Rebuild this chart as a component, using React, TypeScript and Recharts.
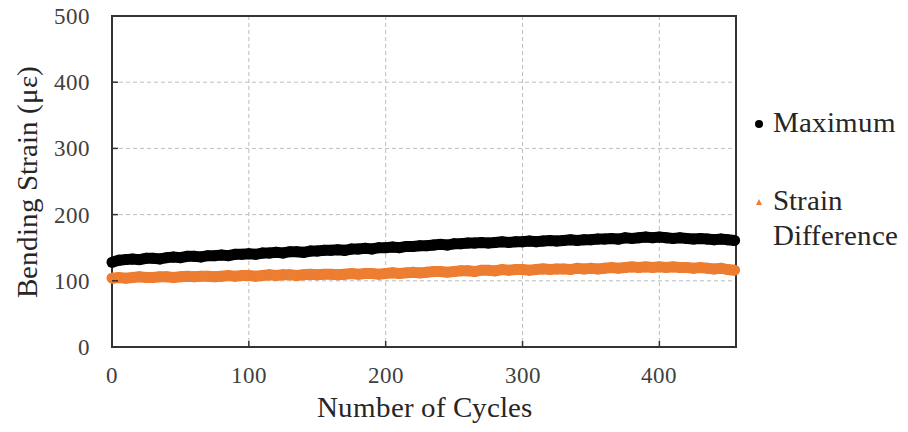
import { ScatterChart, Scatter, XAxis, YAxis, CartesianGrid, ReferenceArea } from 'recharts';

// cycle number of each sampled reading
const cycles = [
  0, 5, 10, 15, 20, 25, 30, 35, 40, 45,
  50, 55, 60, 65, 70, 75, 80, 85, 90, 95,
  100, 105, 110, 115, 120, 125, 130, 135, 140, 145,
  150, 155, 160, 165, 170, 175, 180, 185, 190, 195,
  200, 205, 210, 215, 220, 225, 230, 235, 240, 245,
  250, 255, 260, 265, 270, 275, 280, 285, 290, 295,
  300, 305, 310, 315, 320, 325, 330, 335, 340, 345,
  350, 355, 360, 365, 370, 375, 380, 385, 390, 395,
  400, 405, 410, 415, 420, 425, 430, 435, 440, 445,
  450, 455,
];

const maximum = [
  128, 131, 132, 133, 132, 134, 134, 133, 135, 136,
  135, 137, 137, 136, 138, 138, 139, 138, 140, 140,
  141, 140, 142, 142, 143, 142, 144, 144, 143, 145,
  145, 146, 146, 147, 146, 148, 148, 149, 148, 150,
  150, 151, 150, 152, 152, 153, 153, 154, 155, 154,
  156, 156, 157, 157, 158, 157, 158, 159, 158, 159,
  159, 160, 159, 160, 161, 160, 161, 162, 161, 162,
  162, 163, 163, 164, 163, 165, 164, 165, 166, 165,
  166, 165, 164, 165, 164, 163, 164, 163, 162, 163,
  162, 161,
];

const strainDifference = [
  104, 105, 104, 105, 106, 105, 105, 106, 106, 105,
  106, 107, 106, 107, 107, 106, 107, 108, 107, 108,
  108, 107, 108, 109, 108, 109, 109, 108, 109, 110,
  109, 110, 110, 109, 110, 111, 110, 111, 111, 110,
  111, 112, 111, 112, 113, 112, 113, 114, 114, 113,
  114, 115, 115, 114, 116, 116, 115, 117, 116, 117,
  117, 116, 117, 118, 117, 118, 118, 117, 119, 118,
  119, 118, 119, 120, 119, 120, 121, 120, 121, 120,
  121, 120, 121, 120, 120, 119, 120, 119, 118, 119,
  117, 116,
];

const xTicks = [0, 100, 200, 300, 400];
const yTicks = [0, 100, 200, 300, 400, 500];

const serif = "ChartSerif, 'Liberation Serif', serif";
const ORANGE = '#ED7D31';

const fontCss = `
@font-face { font-family: 'ChartSerif'; src: local('Liberation Serif'), local('LiberationSerif'), local('LiberationSerif-Regular'); }
.strain-chart, .strain-chart text, .strain-chart tspan, .strain-chart div { font-family: ${serif} !important; }
`;

const maxData = cycles.map((c, i) => ({ cycle: c, strain: maximum[i] }));
const diffData = cycles.map((c, i) => ({ cycle: c, strain: strainDifference[i] }));

const XTick = ({ x, y, payload }: any) => (
  <g>
    <line x1={x} y1={y} x2={x} y2={y - 6} stroke="#333" strokeWidth={1.5} />
    <text x={x} y={y + 36} textAnchor="middle" fontSize={23} fontFamily={serif} fill="#404040">
      {payload.value}
    </text>
  </g>
);

const YTick = ({ x, y, payload }: any) => (
  <g>
    <line x1={x} y1={y} x2={x + 6} y2={y} stroke="#333" strokeWidth={1.5} />
    <text x={x - 22} y={y + 8} textAnchor="end" fontSize={23} fontFamily={serif} fill="#404040">
      {payload.value}
    </text>
  </g>
);

const dot = (fill: string) => (props: any) => <circle cx={props.cx} cy={props.cy} r={5.5} fill={fill} />;

export default function App() {
  return (
    <div className="strain-chart" style={{ position: 'absolute', left: 0, top: 0, width: 908, height: 432, background: '#fff', fontFamily: serif }}>
      <style>{fontCss}</style>
      <ScatterChart width={908} height={432} margin={{ top: 16, right: 172, bottom: 0, left: 0 }}>
        <CartesianGrid stroke="#bdbdbd" strokeDasharray="4 3" />
        <XAxis
          type="number"
          dataKey="cycle"
          domain={[0, 456]}
          ticks={xTicks}
          height={85}
          tickSize={0}
          tickMargin={0}
          tickLine={false}
          axisLine={false}
          tick={<XTick />}
          label={{ value: 'Number of Cycles', position: 'insideBottom', offset: 15, fontSize: 29, fontFamily: serif, fill: '#262626' }}
        />
        <YAxis
          type="number"
          dataKey="strain"
          domain={[0, 500]}
          ticks={yTicks}
          width={112}
          tickSize={0}
          tickMargin={0}
          tickLine={false}
          axisLine={false}
          tick={<YTick />}
          label={{ value: 'Bending Strain (με)', angle: -90, position: 'center', dx: -29, fontSize: 29, fontFamily: serif, fill: '#262626' }}
        />
        <Scatter
          data={maxData}
          fill="#000"
          line={{ stroke: '#000', strokeWidth: 11 }}
          shape={dot('#000')}
          isAnimationActive={false}
        />
        <Scatter
          data={diffData}
          fill={ORANGE}
          line={{ stroke: ORANGE, strokeWidth: 11 }}
          shape={dot(ORANGE)}
          isAnimationActive={false}
        />
        <ReferenceArea x1={0} x2={456} y1={0} y2={500} fill="none" stroke="#333" strokeWidth={2} />
      </ScatterChart>
      <div style={{ position: 'absolute', left: 752, top: 105, fontSize: 29, color: '#262626', lineHeight: '35px', fontFamily: serif }}>
        <div style={{ position: 'relative', paddingLeft: 21 }}>
          <span style={{ position: 'absolute', left: 3, top: 15, width: 8, height: 8, borderRadius: 4, background: '#000' }} />
          Maximum
        </div>
        <div style={{ position: 'relative', paddingLeft: 21, marginTop: 43 }}>
          <span
            style={{
              position: 'absolute', left: 4, top: 16, width: 0, height: 0,
              borderLeft: '3px solid transparent', borderRight: '3px solid transparent', borderBottom: `6px solid ${ORANGE}`,
            }}
          />
          Strain
          <br />
          Difference
        </div>
      </div>
    </div>
  );
}
